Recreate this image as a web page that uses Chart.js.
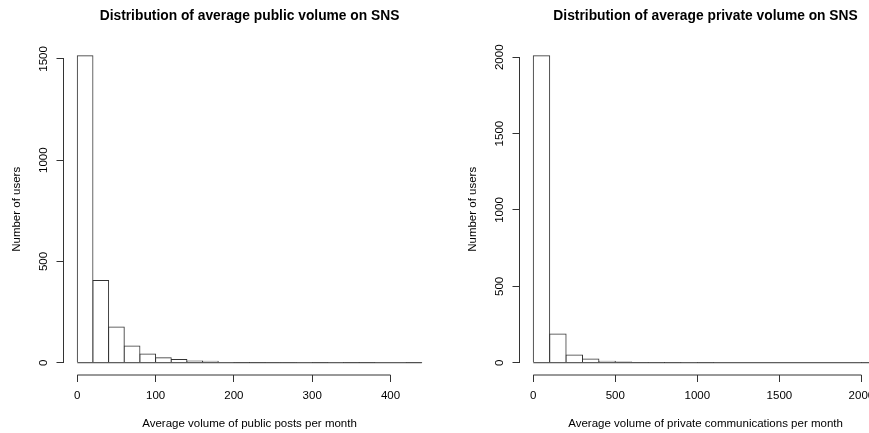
<!DOCTYPE html>
<html>
<head>
<meta charset="utf-8">
<script src="https://cdn.jsdelivr.net/npm/chart.js@4.4.1/dist/chart.umd.min.js"></script>
<style>
  html, body { margin: 0; padding: 0; background: #fff; }
  #wrap { position: relative; width: 869px; height: 433px; overflow: hidden; background: #fff; }
  canvas { position: absolute; top: 0; }
  #c1 { left: 0; }
  #c2 { left: 456px; }
</style>
</head>
<body>
<div id="wrap">
  <canvas id="c1" width="456" height="433" style="width:456px;height:433px"></canvas>
  <canvas id="c2" width="456" height="433" style="width:456px;height:433px"></canvas>
</div>
<script>
// ---------- DATA ----------
// Public posts per month: histogram bins (left edge), width 20
const publicBinStarts = [0, 20, 40, 60, 80, 100, 120, 140, 160, 180, 200, 220, 240, 260, 280, 300, 320, 340, 360, 380, 400, 420];
const publicBinWidth = 20;
const publicCounts = [1515, 406, 176, 82, 43, 25, 16, 8, 7, 0, 1, 1, 2, 2, 0, 1, 0, 1, 1, 0, 0, 1];
const publicXTicks = [0, 100, 200, 300, 400];
const publicYTicks = [0, 500, 1000, 1500];

// Private communications per month: histogram bins (left edge), width 100
const privateBinStarts = [0, 100, 200, 300, 400, 500, 600, 700, 800, 900, 1000, 1100, 1200, 1300, 1400, 1500, 1600, 1700, 1800, 1900, 2000];
const privateBinWidth = 100;
const privateCounts = [2009, 188, 50, 24, 9, 4, 3, 1, 1, 0, 1, 0, 0, 0, 0, 0, 0, 0, 0, 0, 1];
const privateXTicks = [0, 500, 1000, 1500, 2000];
const privateYTicks = [0, 500, 1000, 1500, 2000];

const titles = ['Distribution of average public volume on SNS', 'Distribution of average private volume on SNS'];
const xTitles = ['Average volume of public posts per month', 'Average volume of private communications per month'];
const yTitle = 'Number of users';

// ---------- STYLE ----------
const FONT = '"Liberation Sans", Arial, Helvetica, sans-serif';
const TXT = 11.5;
const LINE = '#333';

// R-style detached axes, rotated y tick labels and zero baseline of histogram
const rAxes = {
  id: 'rAxes',
  afterLayout(chart) {
    // centre the main title over the plot region (as R does)
    const tb = chart.titleBlock;
    if (tb) {
      tb.left = chart.chartArea.left;
      tb.right = chart.chartArea.right;
      tb.width = tb.right - tb.left;
    }
  },
  afterDatasetsDraw(chart, args, o) {
    const { ctx, chartArea, scales: { x, y } } = chart;
    ctx.save();
    ctx.strokeStyle = LINE;
    ctx.lineWidth = 1;
    // baseline of histogram (zero-height bins drawn as lines)
    const y0 = y.getPixelForValue(0);
    ctx.beginPath();
    ctx.moveTo(x.getPixelForValue(o.breakMin), y0);
    ctx.lineTo(x.getPixelForValue(o.breakMax), y0);
    ctx.stroke();
    // x axis line
    ctx.beginPath();
    ctx.moveTo(x.getPixelForValue(o.xTicks[0]), chartArea.bottom);
    ctx.lineTo(x.getPixelForValue(o.xTicks[o.xTicks.length - 1]), chartArea.bottom);
    ctx.stroke();
    // y axis line
    ctx.beginPath();
    ctx.moveTo(chartArea.left, y.getPixelForValue(o.yTicks[0]));
    ctx.lineTo(chartArea.left, y.getPixelForValue(o.yTicks[o.yTicks.length - 1]));
    ctx.stroke();
    // rotated y tick labels
    ctx.fillStyle = '#000';
    ctx.font = TXT + 'px ' + FONT;
    ctx.textAlign = 'center';
    ctx.textBaseline = 'middle';
    o.yTicks.forEach(v => {
      ctx.save();
      ctx.translate(chartArea.left - 20, y.getPixelForValue(v));
      ctx.rotate(-Math.PI / 2);
      ctx.fillText(String(v), 0, 0);
      ctx.restore();
    });
    ctx.restore();
  }
};

function makeHist(canvas, binStarts, binWidth, counts, xTicks, yTicks, title, xTitle) {
  const breakMin = binStarts[0];
  const breakMax = binStarts[binStarts.length - 1] + binWidth;
  const xr = breakMax - breakMin;
  const yMax = Math.max(...counts);
  return new Chart(canvas, {
    type: 'bar',
    data: {
      datasets: [{
        data: binStarts.map((b, i) => ({ x: b + binWidth / 2, y: counts[i] })),
        backgroundColor: '#ffffff',
        borderColor: LINE,
        borderWidth: 1,
        inflateAmount: 0.5,
        barPercentage: 1,
        categoryPercentage: 1,
        borderSkipped: 'start'
      }]
    },
    options: {
      responsive: false,
      animation: false,
      devicePixelRatio: 1,
      layout: { padding: { left: 0, right: 20.4, top: 0, bottom: 0 } },
      plugins: {
        legend: { display: false },
        tooltip: { enabled: false },
        title: {
          display: true, text: title, color: '#000',
          font: { family: FONT, size: 13.8, weight: 'bold' },
          padding: { top: 8.4, bottom: 18.64 }
        },
        rAxes: { xTicks, yTicks, breakMin, breakMax }
      },
      scales: {
        x: {
          type: 'linear', offset: false,
          min: breakMin - 0.04 * xr, max: breakMax + 0.04 * xr,
          afterBuildTicks: s => { s.ticks = xTicks.map(v => ({ value: v })); },
          afterFit: s => { s.height = 58; },
          grid: { display: true, drawOnChartArea: false, drawTicks: true, tickLength: 7, color: LINE, offset: false },
          border: { display: false },
          ticks: { color: '#000', font: { family: FONT, size: TXT }, padding: 7, maxRotation: 0, autoSkip: false, callback: v => String(v) },
          title: { display: true, text: xTitle, color: '#000', font: { family: FONT, size: TXT }, padding: { top: 0, bottom: 2.3 } }
        },
        y: {
          type: 'linear',
          min: -0.04 * yMax, max: 1.04 * yMax,
          afterBuildTicks: s => { s.ticks = yTicks.map(v => ({ value: v })); },
          afterFit: s => { s.width = 63.5; },
          grid: { display: true, drawOnChartArea: false, drawTicks: true, tickLength: 7, color: LINE },
          border: { display: false },
          ticks: { display: false },
          title: { display: true, text: yTitle, color: '#000', font: { family: FONT, size: TXT }, padding: { top: 9.8, bottom: 0 } }
        }
      }
    },
    plugins: [rAxes]
  });
}

makeHist(document.getElementById('c1'), publicBinStarts, publicBinWidth, publicCounts, publicXTicks, publicYTicks, titles[0], xTitles[0]);
makeHist(document.getElementById('c2'), privateBinStarts, privateBinWidth, privateCounts, privateXTicks, privateYTicks, titles[1], xTitles[1]);
</script>
</body>
</html>
